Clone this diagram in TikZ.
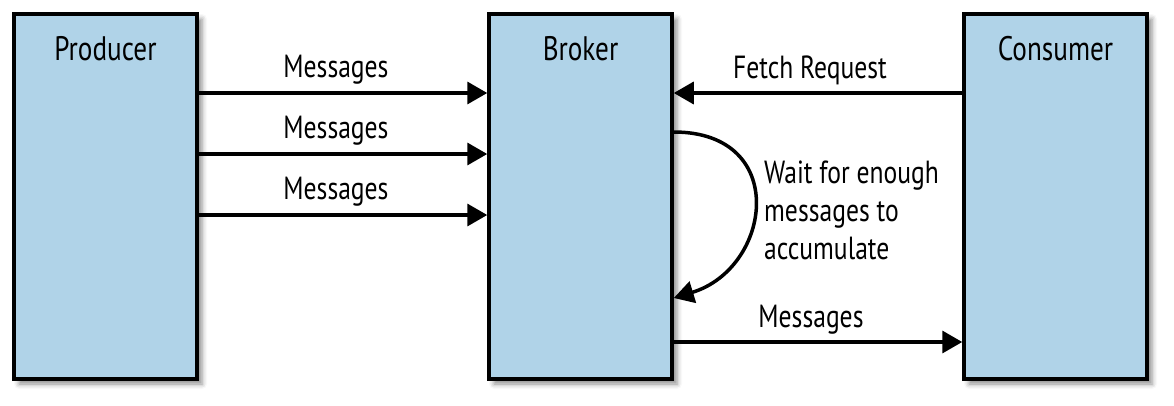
\documentclass[tikz,border=0pt]{standalone}
\usepackage{fontspec}
\setmainfont{PT Sans}[FakeStretch=0.8]
\usetikzlibrary{arrows.meta,shadows.blur}
\definecolor{boxblue}{RGB}{176,211,232}
\tikzset{
  box/.style={draw=black, line width=3.5pt, fill=boxblue, minimum width=183pt, minimum height=365pt, inner sep=0pt,
    blur shadow={shadow xshift=5pt, shadow yshift=-5pt, shadow blur radius=5pt, shadow opacity=45}},
  boxlabel/.style={font=\fontsize{34}{38}\selectfont, anchor=center, inner sep=0pt},
  lbl/.style={font=\fontsize{32}{38}\selectfont, inner sep=0pt},
  arr/.style={line width=3.5pt, -{Triangle[length=20pt,width=22pt]}},
}
\begin{document}
\begin{tikzpicture}[x=1pt,y=-1pt]
\useasboundingbox (0,0) rectangle (1174,405);
\node[box] (prod) at (105.5,196.5) {};
\node[box] (brok) at (580.5,196.5) {};
\node[box] (cons) at (1055.5,196.5) {};
\node[boxlabel] (tprod) at (105.5,49) {Producer};
\node[boxlabel] (tbrok) at (580.5,49) {Broker};
\node[boxlabel] (tcons) at (1055.5,49) {Consumer};
% producer -> broker
\draw[arr] (prod.east |- 0,93) -- (brok.west |- 0,93);
\draw[arr] (prod.east |- 0,154) -- (brok.west |- 0,154);
\draw[arr] (prod.east |- 0,215) -- (brok.west |- 0,215);
\node[lbl] (m1) at (336,70) {Messages};
\node[lbl] (m2) at (336,131) {Messages};
\node[lbl] (m3) at (336,192) {Messages};
% fetch request
\draw[arr] (cons.west |- 0,93) -- (brok.east |- 0,93);
\node[lbl] (fr) at (810,70) {Fetch Request};
% wait loop
\coordinate (ws) at (brok.east |- 0,132);
\coordinate (we) at (brok.east |- 0,298);
\draw[arr] (ws) .. controls (790,132) and (772,268) .. (we);
\node[lbl, anchor=west, align=left] (wt) at (764,210) {Wait for enough\\messages to\\accumulate};
% messages to consumer
\draw[arr] (brok.east |- 0,342) -- (cons.west |- 0,342);
\node[lbl] (m4) at (811,320) {Messages};
\end{tikzpicture}
\end{document}
